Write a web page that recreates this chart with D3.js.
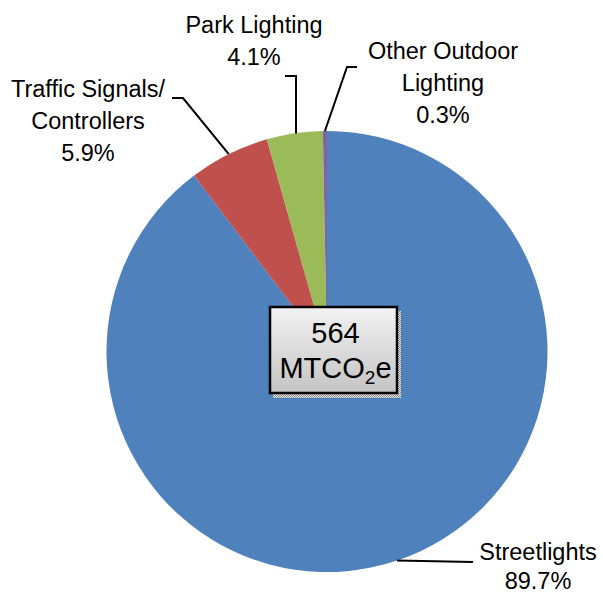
<!DOCTYPE html>
<html>
<head>
<meta charset="utf-8">
<script src="https://cdn.jsdelivr.net/npm/d3@7"></script>
<style>
  body { margin: 0; background: #fff; }
  svg text { font-family: "Liberation Sans Narrow", "Arial Narrow", "Liberation Sans", sans-serif; fill: #000; }
</style>
</head>
<body>
<svg id="chart" width="603" height="594"></svg>
<script>
// chart data
const categories = ['Streetlights', 'Traffic Signals/\nControllers', 'Park Lighting', 'Other Outdoor\nLighting'];
const shares = [89.7, 5.9, 4.1, 0.3];
const shareLabels = ['89.7%', '5.9%', '4.1%', '0.3%'];
const totalValue = '564';
const totalUnit = 'MTCO';

const colors = ['#4F81BD', '#C0504D', '#9BBB59', '#8064A2'];

// label placement: text centre x, first line y, line gap, and the leader elbow/end
const labelLayout = [
    { x: 538, y: 560, gap: 29, elbow: [473, 562], end: [473, 562] },
    { x: 88, y: 97, gap: 32, elbow: [183, 98], end: [172, 98] },
    { x: 254, y: 33, gap: 32, elbow: [296, 76], end: [285, 76] },
    { x: 443, y: 59, gap: 32, elbow: [347, 67], end: [357, 67] }
];

const svg = d3.select('#chart');
const cx = 327, cy = 351.5, radius = 220.5;

const pie = d3.pie().sort(null).value(d => d);
const arcs = pie(shares);
const arc = d3.arc().innerRadius(0).outerRadius(radius);

const plot = svg.append('g').attr('transform', `translate(${cx},${cy})`);

plot.selectAll('path.slice')
    .data(arcs)
    .enter()
    .append('path')
    .classed('slice', true)
    .attr('d', arc)
    .attr('fill', (d, i) => colors[i]);

// leader lines from the slice edge to the label
const edgePoint = d => {
    const a = (d.startAngle + d.endAngle) / 2;
    return [cx + radius * Math.sin(a), cy - radius * Math.cos(a)];
};

svg.selectAll('polyline.leader')
    .data(arcs)
    .enter()
    .append('polyline')
    .classed('leader', true)
    .attr('points', (d, i) => {
        const p = edgePoint(d);
        const l = labelLayout[i];
        if (i === 2) p[0] = l.elbow[0];
        return [p, l.elbow, l.end].map(q => q.join(',')).join(' ');
    })
    .attr('fill', 'none')
    .attr('stroke', '#000')
    .attr('stroke-width', 2);

// labels
const labels = svg.selectAll('text.label')
    .data(categories)
    .enter()
    .append('text')
    .classed('label', true)
    .attr('text-anchor', 'middle')
    .style('font-size', '23.5px');

labels.each(function(d, i) {
    const t = d3.select(this);
    const l = labelLayout[i];
    const lines = d.split('\n').concat(shareLabels[i]);
    lines.forEach((s, j) => {
        t.append('tspan').attr('x', l.x).attr('y', l.y + j * l.gap).text(s);
    });
});

// centre total box
const defs = svg.append('defs');
const grad = defs.append('linearGradient').attr('id', 'boxFill').attr('x1', 0).attr('y1', 0).attr('x2', 0).attr('y2', 1);
grad.append('stop').attr('offset', '0%').attr('stop-color', '#f2f2f2');
grad.append('stop').attr('offset', '100%').attr('stop-color', '#c4c4c4');

const dots = defs.append('pattern').attr('id', 'shadowDots')
    .attr('width', 2).attr('height', 2).attr('patternUnits', 'userSpaceOnUse');
dots.append('rect').attr('width', 2).attr('height', 2).attr('fill', '#e8e8e8');
dots.append('rect').attr('width', 1).attr('height', 1).attr('fill', '#8a8a8a');
dots.append('rect').attr('x', 1).attr('y', 1).attr('width', 1).attr('height', 1).attr('fill', '#8a8a8a');

const box = { x: 270, y: 307, w: 127, h: 86 };
svg.append('rect')
    .attr('x', box.x + 3).attr('y', box.y + 4)
    .attr('width', box.w + 1).attr('height', box.h + 1)
    .attr('fill', 'url(#shadowDots)');
svg.append('rect')
    .attr('x', box.x).attr('y', box.y)
    .attr('width', box.w).attr('height', box.h)
    .attr('fill', 'url(#boxFill)')
    .attr('stroke', '#000')
    .attr('stroke-width', 2.5);

svg.append('text')
    .attr('x', box.x + box.w / 2 + 2).attr('y', 343)
    .attr('text-anchor', 'middle')
    .style('font-size', '29px')
    .text(totalValue);

const unit = svg.append('text')
    .attr('x', box.x + box.w / 2 + 2).attr('y', 378)
    .attr('text-anchor', 'middle')
    .style('font-size', '29px');
unit.append('tspan').text(totalUnit);
unit.append('tspan').attr('dy', 6).style('font-size', '19px').text('2');
unit.append('tspan').attr('dy', -6).text('e');
</script>
</body>
</html>
